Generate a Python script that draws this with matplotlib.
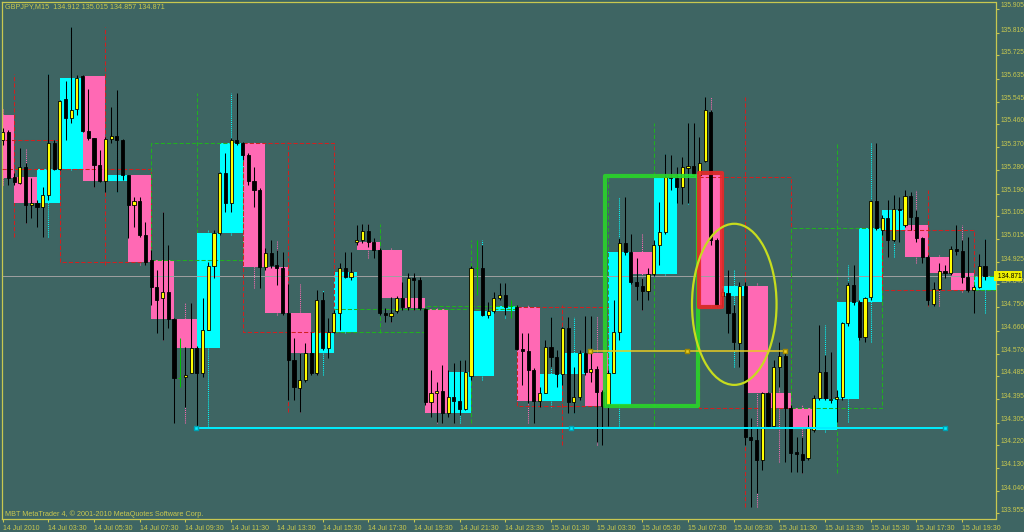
import matplotlib.pyplot as plt
import matplotlib.patches as mpatches
import matplotlib.transforms as mtransforms
import numpy as np

plt.rcParams['font.family'] = ['Liberation Sans', 'DejaVu Sans']

# M15 bars, counted in 15 minute steps from 14 Jul 2010 00:00
first_bar = 4
m15_open = [
    135.495, 135.444, 135.398, 135.428, 135.255, 135.231, 135.293, 135.147, 135.154, 135.139,
    135.185, 135.386, 135.285, 135.556, 135.483, 135.517, 135.645, 135.432, 135.405, 135.301,
    135.239, 135.401, 135.413, 135.398, 135.263, 135.147, 135.162, 135.031, 134.934, 134.829,
    134.787, 134.810, 134.706, 134.478, 134.481, 134.496, 134.594, 134.496, 134.663, 134.911,
    135.038, 135.270, 135.154, 135.398, 135.386, 135.340, 135.239, 135.204, 134.907, 134.960,
    134.915, 134.903, 134.728, 134.547, 134.439, 134.470, 134.574, 134.496, 134.779, 134.594,
    134.655, 134.728, 134.903, 134.868, 135.003, 135.011, 135.046, 135.003, 134.972, 134.728,
    134.717, 134.736, 134.787, 134.752, 134.864, 134.856, 134.744, 134.384, 134.419, 134.427,
    134.342, 134.404, 134.388, 134.358, 134.485, 134.903, 134.903, 134.721, 134.736, 134.787,
    134.798, 134.756, 134.752, 134.590, 134.582, 134.508, 134.388, 134.419, 134.598, 134.559,
    134.493, 134.671, 134.384, 134.404, 134.574, 134.500, 134.512, 134.423, 134.373, 134.496,
    134.655, 134.999, 134.964, 134.848, 134.833, 134.814, 134.879, 134.991, 135.042, 135.255,
    135.251, 135.216, 135.289, 135.297, 135.263, 135.316, 135.506, 135.011, 134.794, 134.806,
    134.728, 134.613, 134.833, 134.249, 134.238, 134.160, 134.419, 134.292, 134.520, 134.563,
    134.361, 134.191, 134.183, 134.168, 134.276, 134.400, 134.500, 134.392, 134.396, 134.404,
    134.690, 134.837, 134.771, 134.636, 134.791, 135.162, 135.050, 135.096, 135.011, 135.131,
    135.069, 135.181, 135.100, 135.019, 134.945, 134.763, 134.822, 134.891, 134.883, 134.976,
    134.968, 134.868, 134.818, 134.829, 134.912]
m15_high = [
    135.521, 135.475, 135.444, 135.436, 135.270, 135.367, 135.308, 135.251, 135.166, 135.216,
    135.653, 135.398, 135.552, 135.626, 135.835, 135.649, 135.649, 135.595, 135.405, 135.359,
    135.409, 135.525, 135.591, 135.401, 135.263, 135.177, 135.177, 135.080, 134.972, 134.895,
    135.119, 134.991, 134.710, 134.632, 134.598, 134.767, 134.602, 134.787, 134.926, 135.050,
    135.274, 135.347, 135.405, 135.579, 135.390, 135.347, 135.293, 135.212, 134.980, 135.011,
    134.972, 134.964, 134.841, 134.632, 134.574, 134.612, 134.655, 134.818, 134.810, 134.710,
    134.740, 134.922, 134.964, 134.964, 135.069, 135.073, 135.073, 135.019, 134.980, 134.748,
    134.791, 134.795, 134.848, 134.883, 134.883, 134.868, 134.748, 134.508, 134.462, 134.528,
    134.508, 134.536, 134.547, 134.547, 134.911, 135.011, 134.991, 134.771, 134.810, 134.845,
    134.845, 134.779, 134.760, 134.651, 134.651, 134.516, 134.443, 134.624, 134.713, 134.586,
    134.675, 134.713, 134.520, 134.586, 134.717, 134.717, 134.524, 134.431, 134.508, 134.779,
    135.019, 135.177, 135.034, 134.941, 134.864, 134.903, 135.011, 135.158, 135.343, 135.340,
    135.293, 135.332, 135.463, 135.463, 135.409, 135.564, 135.514, 135.019, 134.825, 134.895,
    134.760, 134.848, 134.848, 134.323, 134.288, 134.423, 134.423, 134.547, 134.617, 134.578,
    134.373, 134.249, 134.249, 134.334, 134.412, 134.682, 134.566, 134.578, 134.431, 134.694,
    134.848, 134.915, 134.779, 134.791, 135.166, 135.386, 135.108, 135.166, 135.185, 135.177,
    135.204, 135.197, 135.127, 135.023, 134.953, 134.848, 134.922, 134.915, 134.988, 135.069,
    135.011, 135.023, 134.837, 134.957, 135.015]
m15_low = [
    135.428, 135.375, 135.379, 135.224, 135.224, 135.228, 135.076, 135.096, 135.061, 135.023,
    135.166, 135.282, 135.282, 135.398, 135.463, 135.495, 135.428, 135.398, 135.216, 135.235,
    135.196, 135.386, 135.196, 135.243, 135.019, 135.061, 135.023, 134.915, 134.760, 134.651,
    134.624, 134.671, 134.303, 134.443, 134.365, 134.496, 134.288, 134.481, 134.663, 134.864,
    135.031, 135.119, 135.119, 135.379, 135.320, 135.224, 135.139, 134.825, 134.895, 134.903,
    134.837, 134.721, 134.392, 134.392, 134.346, 134.462, 134.489, 134.489, 134.586, 134.555,
    134.651, 134.663, 134.864, 134.856, 134.991, 134.999, 134.983, 134.941, 134.721, 134.694,
    134.694, 134.728, 134.740, 134.740, 134.740, 134.740, 134.373, 134.327, 134.307, 134.303,
    134.327, 134.303, 134.334, 134.354, 134.470, 134.798, 134.717, 134.710, 134.728, 134.779,
    134.721, 134.710, 134.586, 134.450, 134.381, 134.303, 134.365, 134.419, 134.520, 134.443,
    134.450, 134.342, 134.342, 134.392, 134.489, 134.462, 134.230, 134.218, 134.292, 134.496,
    134.624, 134.953, 134.841, 134.779, 134.740, 134.779, 134.872, 134.915, 135.034, 135.204,
    135.154, 135.150, 135.154, 135.263, 135.255, 135.313, 134.991, 134.752, 134.752, 134.651,
    134.586, 134.520, 134.218, 133.978, 134.033, 134.122, 134.288, 134.288, 134.443, 134.152,
    134.114, 134.114, 134.110, 134.160, 134.269, 134.392, 134.392, 134.381, 134.307, 134.392,
    134.678, 134.760, 134.624, 134.617, 134.779, 135.050, 135.031, 134.945, 135.003, 135.003,
    135.061, 135.050, 135.003, 134.922, 134.760, 134.756, 134.818, 134.864, 134.876, 134.953,
    134.845, 134.810, 134.728, 134.825, 134.857]
m15_close = [
    135.444, 135.398, 135.428, 135.251, 135.235, 135.293, 135.147, 135.154, 135.139, 135.185,
    135.386, 135.285, 135.548, 135.483, 135.514, 135.637, 135.432, 135.405, 135.301, 135.239,
    135.401, 135.413, 135.398, 135.263, 135.147, 135.162, 135.031, 134.926, 134.829, 134.779,
    134.810, 134.706, 134.478, 134.478, 134.489, 134.594, 134.496, 134.663, 134.911, 135.038,
    135.270, 135.154, 135.398, 135.386, 135.340, 135.239, 135.204, 134.907, 134.960, 134.915,
    134.903, 134.728, 134.547, 134.443, 134.470, 134.574, 134.496, 134.779, 134.594, 134.655,
    134.728, 134.903, 134.868, 134.887, 135.011, 135.046, 135.003, 134.972, 134.728, 134.721,
    134.728, 134.787, 134.752, 134.864, 134.856, 134.748, 134.384, 134.419, 134.427, 134.342,
    134.404, 134.388, 134.358, 134.500, 134.903, 134.903, 134.721, 134.736, 134.787, 134.798,
    134.752, 134.756, 134.590, 134.582, 134.508, 134.388, 134.419, 134.598, 134.559, 134.493,
    134.671, 134.384, 134.404, 134.574, 134.500, 134.512, 134.423, 134.369, 134.496, 134.655,
    134.999, 134.964, 134.848, 134.833, 134.814, 134.879, 134.991, 135.042, 135.255, 135.251,
    135.216, 135.293, 135.297, 135.266, 135.309, 135.514, 135.011, 134.760, 134.810, 134.728,
    134.617, 134.833, 134.249, 134.238, 134.160, 134.419, 134.292, 134.520, 134.563, 134.361,
    134.187, 134.183, 134.160, 134.284, 134.400, 134.500, 134.400, 134.396, 134.404, 134.690,
    134.837, 134.771, 134.636, 134.787, 135.162, 135.057, 135.096, 135.011, 135.131, 135.127,
    135.181, 135.100, 135.019, 134.945, 134.779, 134.822, 134.891, 134.883, 134.976, 134.968,
    134.868, 134.818, 134.829, 134.911, 134.871]

# H4 candles (00:00, 04:00, ... of 14 Jul and 15 Jul)
h4_open = [135.398, 135.285, 134.934, 135.386, 134.655, 134.744,
           134.752, 134.373, 135.255, 134.361, 135.050, 134.818]
h4_close = [135.285, 134.926, 135.386, 134.655, 134.744, 134.756,
            134.369, 135.259, 134.361, 135.057, 134.818, 134.871]

price_ticks = [135.905, 135.810, 135.725, 135.635, 135.545, 135.460, 135.370, 135.280,
               135.190, 135.105, 135.015, 134.925, 134.840, 134.750, 134.660, 134.570,
               134.485, 134.395, 134.305, 134.220, 134.130, 134.040, 133.955]
time_ticks = list(range(6, 175, 8))
time_labels = ['14 Jul 2010', '14 Jul 03:30', '14 Jul 05:30', '14 Jul 07:30', '14 Jul 09:30',
               '14 Jul 11:30', '14 Jul 13:30', '14 Jul 15:30', '14 Jul 17:30', '14 Jul 19:30',
               '14 Jul 21:30', '14 Jul 23:30', '15 Jul 01:30', '15 Jul 03:30', '15 Jul 05:30',
               '15 Jul 07:30', '15 Jul 09:30', '15 Jul 11:30', '15 Jul 13:30', '15 Jul 15:30',
               '15 Jul 17:30', '15 Jul 19:30']

last_price = 134.871
header = 'GBPJPY,M15  134.912 135.015 134.857 134.871'
footer = 'MBT MetaTrader 4, \u00a9 2001-2010 MetaQuotes Software Corp.'

# objects drawn by hand on the chart
cyan_level, cyan_from, cyan_to = 134.285, 39.85, 171.0
gold_level, gold_from, gold_to = 134.582, 108.8, 143.0
green_box = (111.5, 127.8, 134.370, 135.258)
red_box = (127.9, 131.9, 134.753, 135.269)
ellipse_box = (134.1, 134.762, 14.8, 0.623)

bg = '#3e6563'
fg = '#c8c850'
pink = '#ff69b4'
cyan = '#00ffff'

t = np.arange(first_bar, first_bar + len(m15_open))
o = np.array(m15_open)
h = np.array(m15_high)
l = np.array(m15_low)
c = np.array(m15_close)

fig = plt.figure(figsize=(10.24, 5.32), dpi=100, facecolor=bg)
ax = fig.add_axes([2 / 1024, 13 / 532, 993.5 / 1024, 517 / 532], facecolor=bg)

# H4 dashed boxes
for k in range(len(h4_open)):
    sel = (t >= 16 * k) & (t < 16 * k + 16)
    col = '#20b020' if h4_close[k] >= h4_open[k] else '#d02020'
    ax.bar(16 * k, h4_close[k] - h4_open[k], bottom=h4_open[k], width=16, align='edge',
           fill=False, edgecolor=col, linewidth=0.75, linestyle=(0, (4, 2)), zorder=3)
    if sel.any():
        ax.vlines(16 * k + 8, l[sel].min(), h[sel].max(), colors=col, linewidth=0.75,
                  linestyles=(0, (4, 2)), zorder=1)

# H1 boxes from the M15 bars
for hr in range(t[0] // 4, t[-1] // 4 + 1):
    sel = (t >= 4 * hr) & (t < 4 * hr + 4)
    ho, hc = o[sel][0], c[sel][-1]
    col = cyan if hc >= ho else pink
    ax.vlines(4 * hr + 2, l[sel].min(), h[sel].max(), colors=col, linewidth=0.75,
              linestyles=(0, (1, 1)), zorder=1.5)
    ax.bar(4 * hr, hc - ho, bottom=ho, width=4, align='edge', color=col,
           linewidth=0, zorder=2)

ax.axhline(last_price, color='#a0a0a0', linewidth=0.7, zorder=2.5)

# M15 candles
doji = np.isclose(o, c, atol=0.0005)
up = (c > o) & ~doji
down = (c < o) & ~doji
ax.vlines(t[~doji], l[~doji], h[~doji], colors='black', linewidth=0.75, zorder=4)
ax.vlines(t[doji], l[doji], h[doji], colors='#00c000', linewidth=0.75, zorder=4)
ax.hlines(o[doji], t[doji] - 0.3, t[doji] + 0.3, colors='#00c000', linewidth=0.75, zorder=4)
ax.bar(t[up], c[up] - o[up], bottom=o[up], width=0.55, color='#ffff00',
       edgecolor='black', linewidth=0.6, zorder=5)
ax.bar(t[down], c[down] - o[down], bottom=o[down], width=0.55, color='black',
       edgecolor='black', linewidth=0.6, zorder=5)

# hand drawn objects
x0, x1, y0, y1 = green_box
ax.add_patch(mpatches.Rectangle((x0, y0), x1 - x0, y1 - y0, fill=False, edgecolor='#2ad42a',
                                linewidth=3, joinstyle='round', alpha=0.9, zorder=6))
x0, x1, y0, y1 = red_box
ax.add_patch(mpatches.Rectangle((x0, y0), x1 - x0, y1 - y0, fill=False, edgecolor='#e82828',
                                linewidth=3, joinstyle='round', alpha=0.9, zorder=6))
ex, ey, ew, eh = ellipse_box
ax.add_patch(mpatches.Ellipse((ex, ey), ew, eh, fill=False, edgecolor='#c6dc1e',
                              linewidth=1.6, zorder=6))
ax.plot([cyan_from, (cyan_from + cyan_to) / 2, cyan_to], [cyan_level] * 3, color='#00eeff',
        linewidth=1.4, marker='s', markersize=3.2, markerfacecolor='#00eeff',
        markeredgecolor='#00a0b0', zorder=6)
ax.plot([gold_from, (gold_from + gold_to) / 2, gold_to], [gold_level] * 3, color='#e8cc20',
        linewidth=1.1, marker='s', markersize=3.2, markerfacecolor='#e8cc20',
        markeredgecolor='#a08800', zorder=6)

ax.set_xlim(5.88, 179.84)
ax.set_ylim(133.932, 135.931)

for sp in ax.spines.values():
    sp.set_color(fg)
    sp.set_linewidth(0.9)

ax.yaxis.tick_right()
ax.set_yticks(price_ticks)
ax.set_yticklabels(['%.3f' % p for p in price_ticks])
ax.set_xticks(time_ticks)
ax.set_xticklabels(time_labels, ha='left')
ax.tick_params(axis='both', colors=fg, length=2.5, width=0.8, direction='out')
ax.tick_params(axis='y', pad=1, labelsize=4.8)
ax.tick_params(axis='x', pad=1.5, labelsize=5)
shift = mtransforms.ScaledTranslation(0, 4 / 100, fig.dpi_scale_trans)
for lab in ax.get_yticklabels():
    lab.set_transform(lab.get_transform() + shift)

ax.text(1.0, last_price, ' %.3f' % last_price,
        transform=mtransforms.blended_transform_factory(ax.transAxes, ax.transData),
        ha='left', va='center', fontsize=4.8, color='black', zorder=7, clip_on=False,
        bbox=dict(boxstyle='square,pad=0.2', facecolor='#f0f000', edgecolor='none'))

fig.text(5 / 1024, 1 - 7 / 532, header, ha='left', va='center', fontsize=5.2, color=fg)
fig.text(5 / 1024, 1 - 514 / 532, footer, ha='left', va='center', fontsize=5.2, color=fg)

fig.savefig('out.png', dpi=100, facecolor=bg)
